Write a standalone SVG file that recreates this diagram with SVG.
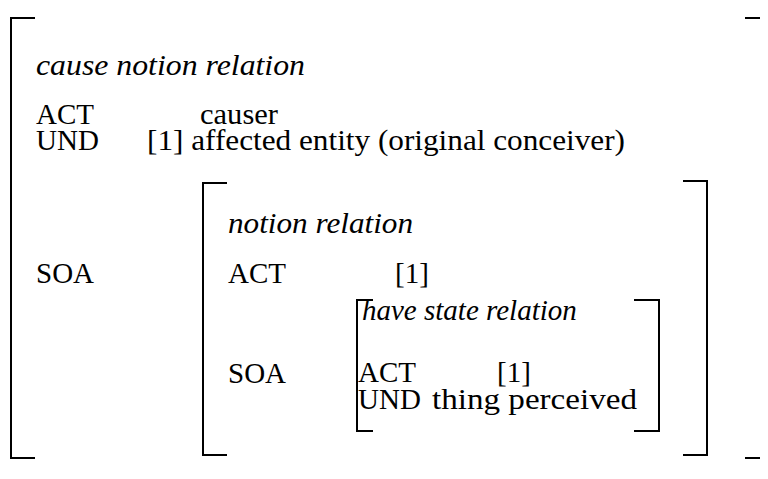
<svg xmlns="http://www.w3.org/2000/svg" width="768" height="479" viewBox="0 0 768 479">
<style>
text{font-family:"Liberation Serif","Times New Roman",serif;font-size:29px;fill:#000}
.it{font-style:italic}
.br{fill:none;stroke:#000;stroke-width:2}
</style>
<rect width="768" height="479" fill="#fff"/>
<g id="outer-bracket">
<path class="br" d="M35,18 H11 V458 H35"/>
<path class="br" d="M745,18 H760 M745,458 H760"/>
</g>
<g id="outer-content">
<text class="it" x="36" y="75" textLength="269" lengthAdjust="spacingAndGlyphs">cause notion relation</text>
<text x="36" y="124">ACT</text>
<text x="200" y="124" textLength="78" lengthAdjust="spacingAndGlyphs">causer</text>
<text x="36" y="150">UND</text>
<text x="147" y="150" textLength="478" lengthAdjust="spacingAndGlyphs">[1] affected entity (original conceiver)</text>
<text x="36" y="283">SOA</text>
</g>
<g id="notion-bracket">
<path class="br" d="M227,183 H203 V455 H227"/>
<path class="br" d="M683,181 H707 V455 H683"/>
</g>
<g id="notion-content">
<text class="it" x="228" y="233" textLength="185" lengthAdjust="spacingAndGlyphs">notion relation</text>
<text x="228" y="283">ACT</text>
<text x="395" y="283">[1]</text>
<text x="228" y="383">SOA</text>
</g>
<g id="state-bracket">
<path class="br" d="M373,300 H357 V431 H373"/>
<path class="br" d="M634,300 H659 V431 H634"/>
</g>
<g id="state-content">
<text class="it" x="362" y="320" font-size="28">have state relation</text>
<text x="358" y="382">ACT</text>
<text x="497" y="382">[1]</text>
<text x="358" y="409">UND</text>
<text x="432" y="409" textLength="205" lengthAdjust="spacingAndGlyphs">thing perceived</text>
</g>
<g id="connectors"></g>
</svg>
